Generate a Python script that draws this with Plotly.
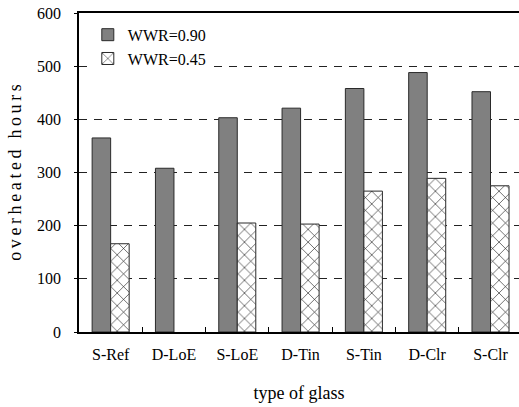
import plotly.graph_objects as go

glass_types = ["S-Ref", "D-LoE", "S-LoE", "D-Tin", "S-Tin", "D-Clr", "S-Clr"]
wwr_090 = [365, 308, 403, 421, 458, 488, 452]
wwr_045 = [166, 0, 205, 203, 265, 289, 275]
y_ticks = [0, 100, 200, 300, 400, 500, 600]

serif = "Liberation Serif"
thin = "\u2009"


def spaced(text):
    # widen the letter spacing of a title with thin spaces
    return thin.join(text)


def outline_widths(values):
    # no outline on bars of zero height
    return [1 if v > 0 else 0 for v in values]


fig = go.Figure()
fig.add_trace(go.Bar(
    x=glass_types, y=wwr_090, name="WWR=0.90",
    marker=dict(color="#808080",
                line=dict(color="#2a2a2a", width=outline_widths(wwr_090))),
))
fig.add_trace(go.Bar(
    x=glass_types, y=wwr_045, name="WWR=0.45",
    marker=dict(color="white",
                line=dict(color="#2a2a2a", width=outline_widths(wwr_045)),
                pattern=dict(shape="x", size=9, solidity=0.12,
                             fgcolor="black", bgcolor="white", fillmode="replace")),
))

fig.update_layout(
    width=519, height=407,
    margin=dict(l=79, r=0, t=13, b=75),
    paper_bgcolor="white", plot_bgcolor="white",
    barmode="group", bargap=0.415, bargroupgap=0,
    font=dict(family=serif, size=16, color="black"),
    showlegend=True,
    legend=dict(x=0.02, y=0.985, xanchor="left", yanchor="top",
                bgcolor="white", borderwidth=0,
                font=dict(family=serif, size=16),
                itemwidth=30, tracegroupgap=0),
    xaxis=dict(
        range=[-0.5, 6.45],
        showline=True, linecolor="black", linewidth=2, mirror=True,
        ticks="inside", tickson="boundaries", ticklen=5, tickcolor="black",
        showgrid=False,
        ticklabelstandoff=7,
        tickfont=dict(family=serif, size=16),
        title=dict(text="type of glass", font=dict(family=serif, size=18), standoff=24),
    ),
    yaxis=dict(
        range=[0, 600], tickvals=y_ticks,
        showline=True, linecolor="black", linewidth=1.5,
        ticks="outside", ticklen=3, tickcolor="black",
        showgrid=True, gridcolor="#222", gridwidth=1, griddash="8px,7px",
        zeroline=False,
        ticklabelstandoff=10,
        tickfont=dict(family=serif, size=16),
        title=dict(text=spaced("overheated") + thin * 3 + spaced("hours"),
                   font=dict(family=serif, size=18), standoff=11),
    ),
)

fig.write_html("out.html")
